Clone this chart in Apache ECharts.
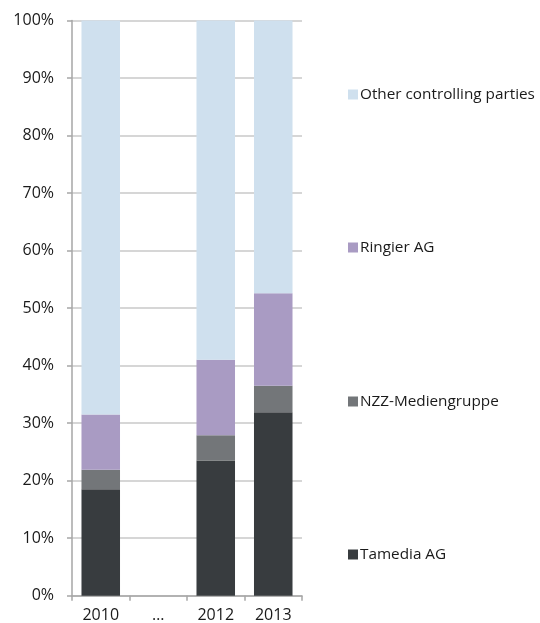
<!DOCTYPE html>
<html><head><meta charset="utf-8">
<script src="https://cdn.jsdelivr.net/npm/echarts@6/dist/echarts.min.js"></script>
<style>html,body{margin:0;padding:0;background:#fff}#c{width:540px;height:623px}</style>
</head><body><div id="c"></div>
<script>
const categories = ['2010', '…', '2012', '2013'];
const tamedia = [18.5, null, 23.5, 31.9];
const nzz = [3.4, null, 4.4, 4.6];
const ringier = [9.6, null, 13.1, 16.1];
const other = [68.5, null, 59.0, 47.4];
const seriesNames = ['Tamedia AG', 'NZZ-Mediengruppe', 'Ringier AG', 'Other controlling parties'];
const colors = ['#383c3f', '#737679', '#a99bc3', '#cfe0ee'];
const legendTops = [542, 389, 235, 82];

const chart = echarts.init(document.getElementById('c'), null, {renderer: 'canvas'});
const font = '"Open Sans", "Noto Sans", sans-serif';
const dataSets = [tamedia, nzz, ringier, other];
chart.setOption({
  animation: false,
  textStyle: {fontFamily: font},
  grid: {left: 72, right: 238, top: 20.5, bottom: 27.3, containLabel: false, outerBoundsMode: 'none'},
  legend: seriesNames.map((n, i) => ({
    data: [n], left: 343, top: legendTops[i], orient: 'vertical',
    itemWidth: 10, itemHeight: 10, itemGap: 0, icon: 'rect',
    textStyle: {fontSize: 15.3, color: '#1a1a1a', fontFamily: font, padding: [0, 0, 0, -3]},
    selectedMode: false
  })),
  xAxis: {
    type: 'category', data: categories,
    axisLine: {lineStyle: {color: '#a6a6a6', width: 1.5}},
    axisTick: {show: true, length: 5, lineStyle: {color: '#a6a6a6', width: 1.5}},
    axisLabel: {fontSize: 16, color: '#1a1a1a', margin: 12, fontFamily: font}
  },
  yAxis: {
    type: 'value', min: 0, max: 100, interval: 10,
    axisLine: {show: true, lineStyle: {color: '#a6a6a6', width: 1.5}},
    axisTick: {show: true, length: 5, lineStyle: {color: '#a6a6a6', width: 1.5}},
    splitLine: {lineStyle: {color: '#c8c8c8', width: 1.5}},
    axisLabel: {fontSize: 16, color: '#1a1a1a', margin: 18, formatter: '{value}%', fontFamily: font}
  },
  series: seriesNames.map((n, i) => ({
    name: n, type: 'bar', stack: 'total', data: dataSets[i],
    barWidth: '67%', itemStyle: {color: colors[i]}
  }))
});
</script></body></html>
